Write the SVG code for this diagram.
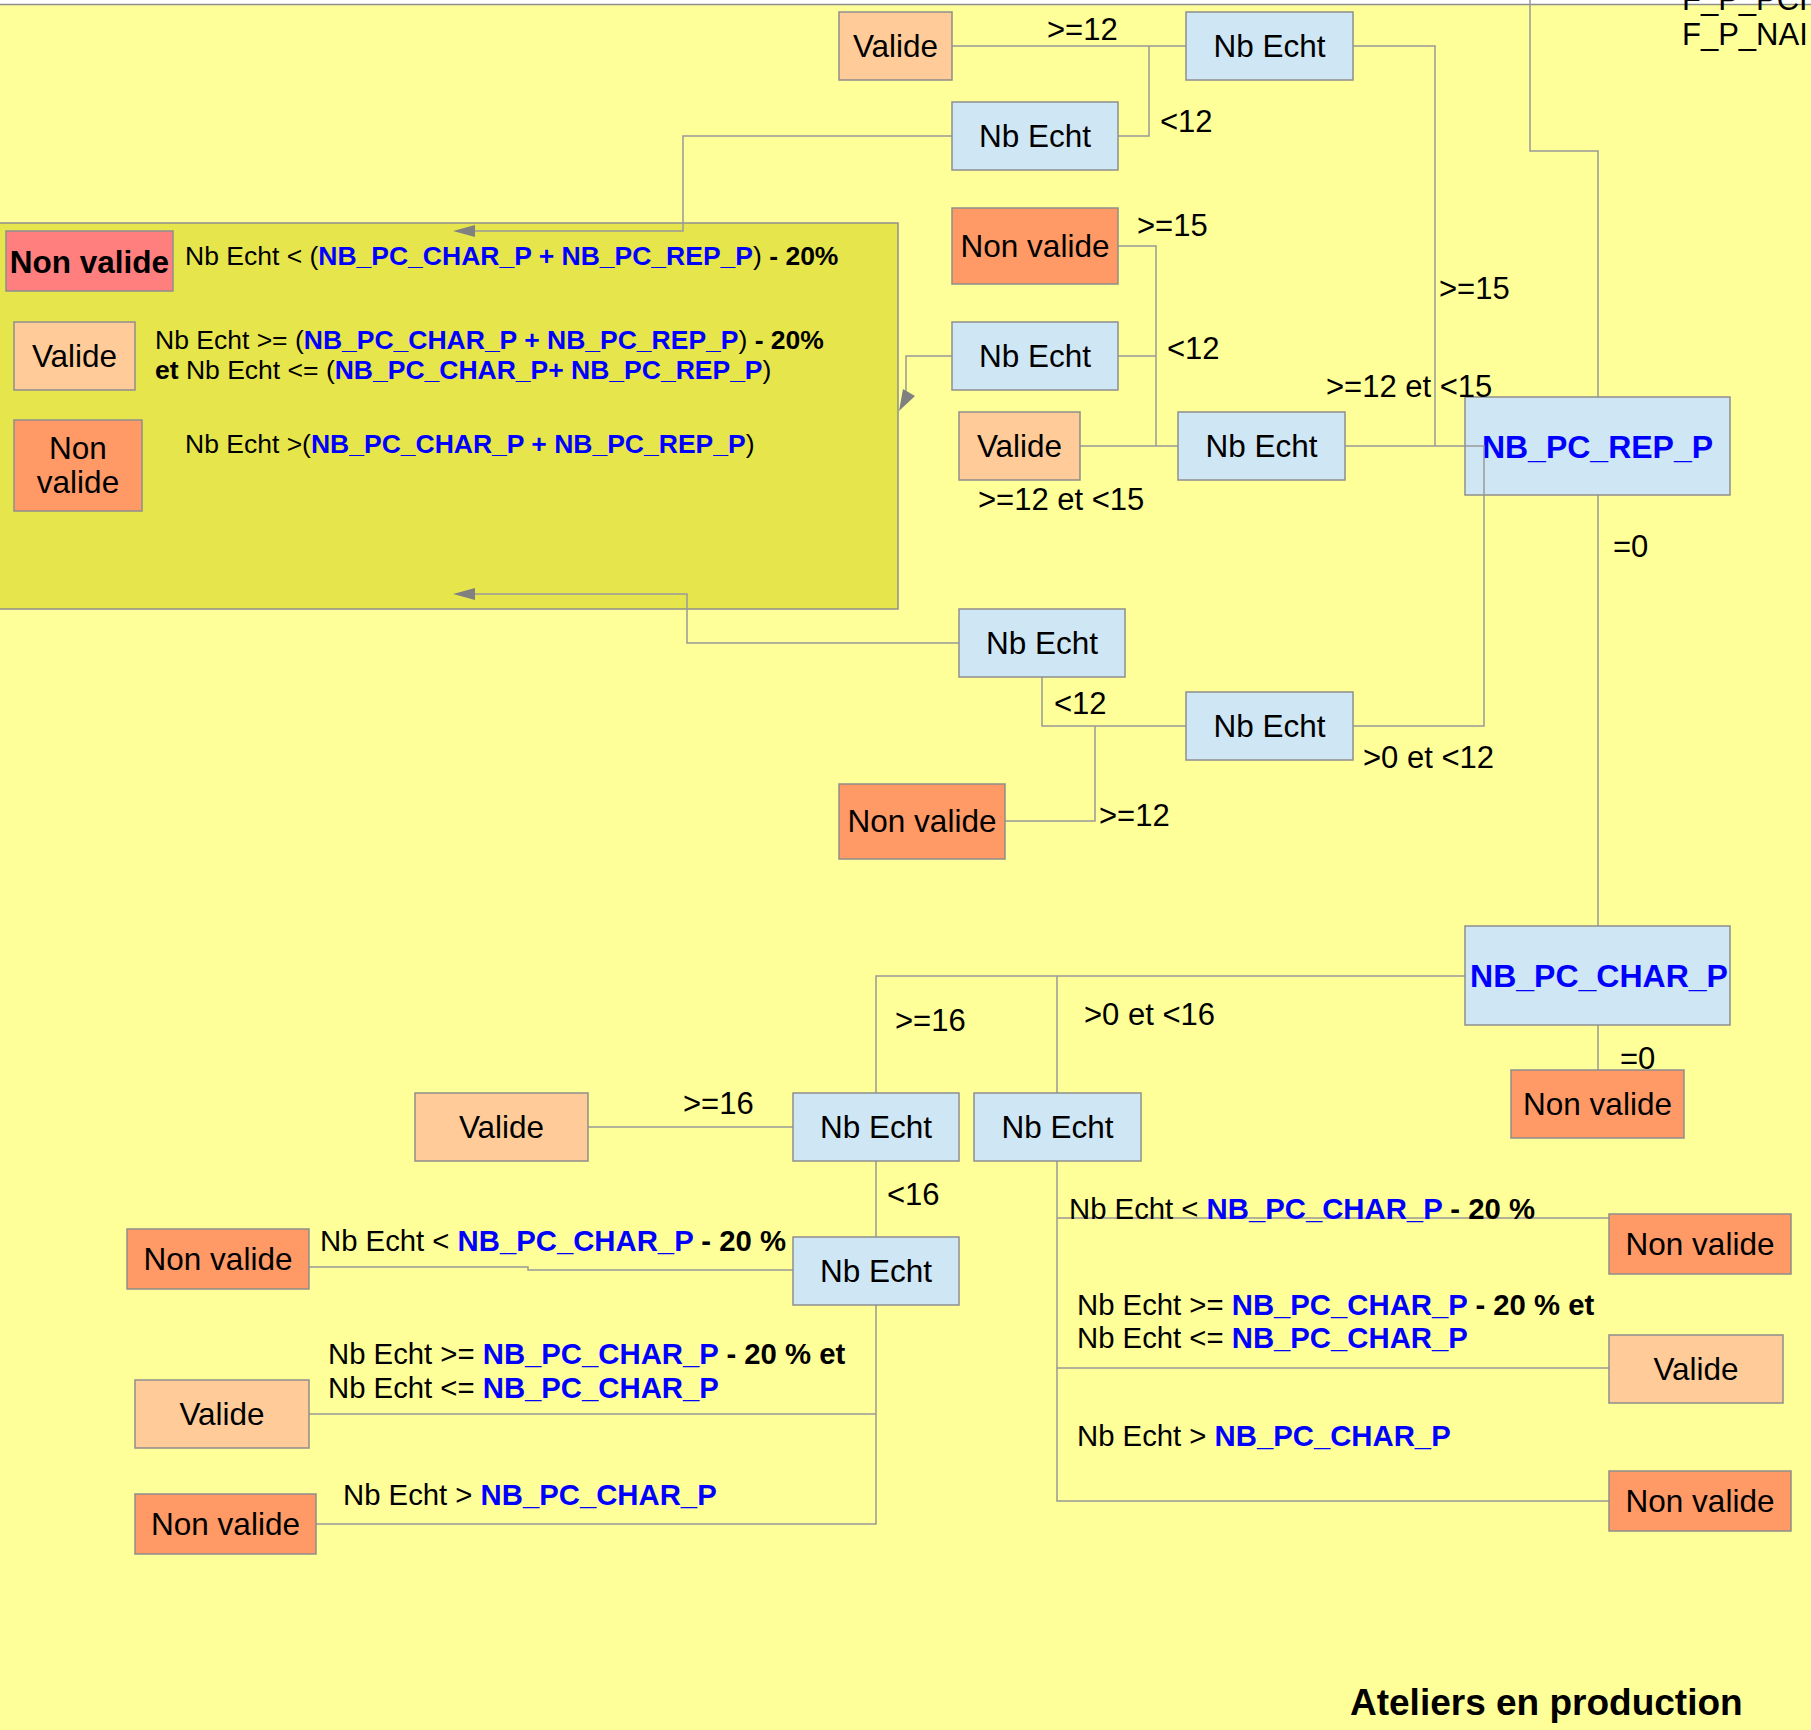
<svg xmlns="http://www.w3.org/2000/svg" width="1811" height="1730" viewBox="0 0 1811 1730">
<style>
.n{stroke:#8E8E8E;stroke-width:1.5}
.nb{fill:#CFE7F5}
.va{fill:#FFCC99}
.nv{fill:#FF9966}
.nvr{fill:#FF7F7F}
.t{font-family:"Liberation Sans",Arial,sans-serif;font-size:31.5px;fill:#000;text-anchor:middle}
.l{font-family:"Liberation Sans",Arial,sans-serif;font-size:31px;fill:#000}
.s{font-family:"Liberation Sans",Arial,sans-serif;font-size:26.5px;fill:#000}
.m{font-family:"Liberation Sans",Arial,sans-serif;font-size:29.3px;fill:#000}
.b{font-weight:bold}
.bl{fill:#0000FF;font-weight:bold}
.c{fill:none;stroke:#999999;stroke-width:1.5}
.ah{fill:#808080}
</style>
<rect x="0" y="0" width="1811" height="1730" fill="#FFFF99"/>
<rect x="0" y="0" width="1811" height="4" fill="#FFFFFF"/>
<line x1="0" y1="4.5" x2="1811" y2="4.5" stroke="#8E8E8E" stroke-width="1.5"/>
<g id="legend">
<rect x="-2" y="223" width="900" height="386" fill="#E6E64C" class="n"/>
</g>
<g id="connectors">
<path class="c" d="M952,46 H1186 M1149,46 V136 H1118"/>
<path class="c" d="M952,136 H683 V231 H470"/>
<polygon class="ah" points="453,231 475,225 475,237"/>
<path class="c" d="M1353,46 H1435 V446 M1345,446 H1484 V726 H1353"/>
<path class="c" d="M1118,246 H1156 V446 M1118,356 H1156 M1080,446 H1178"/>
<path class="c" d="M952,356 H906 V394"/>
<polygon class="ah" points="899,411 903,389 915,396"/>
<path class="c" d="M1186,726 H1042 V677 M1095,726 V821 H1005"/>
<path class="c" d="M959,643 H687 V594 H470"/>
<polygon class="ah" points="453,594 475,588 475,600"/>
<path class="c" d="M1530,0 V151 H1598 V397 M1598,495 V926 M1598,1025 V1070"/>
<path class="c" d="M1465,976 H876 V1093 M1057,976 V1093"/>
<path class="c" d="M588,1127 H793 M876,1161 V1237"/>
<path class="c" d="M793,1270 H528 V1267 H309"/>
<path class="c" d="M876,1305 V1524 H316 M309,1414 H876"/>
<path class="c" d="M1057,1161 V1501 H1609 M1057,1218 H1609 M1057,1368 H1609"/>
</g>
<g id="nv_red"><rect class="n nvr" x="6" y="231" width="167" height="60"/><text class="t b" x="89.5" y="273">Non valide</text></g>
<g id="valide_leg"><rect class="n va" x="14" y="322" width="121" height="68"/><text class="t" x="74.5" y="367">Valide</text></g>
<g id="nv_leg"><rect class="n nv" x="14" y="420" width="128" height="91"/><text class="t" x="78" y="459">Non</text><text class="t" x="78" y="493">valide</text></g>
<g id="legend_text">
<text class="s" x="185" y="265">Nb Echt &lt; (<tspan class="bl">NB_PC_CHAR_P + NB_PC_REP_P</tspan>)<tspan class="b"> - 20%</tspan></text>
<text class="s" x="155" y="349">Nb Echt &gt;= (<tspan class="bl">NB_PC_CHAR_P + NB_PC_REP_P</tspan>)<tspan class="b"> - 20%</tspan></text>
<text class="s" x="155" y="379"><tspan class="b">et</tspan> Nb Echt &lt;= (<tspan class="bl">NB_PC_CHAR_P+ NB_PC_REP_P</tspan>)</text>
<text class="s" x="185" y="453">Nb Echt &gt;(<tspan class="bl">NB_PC_CHAR_P + NB_PC_REP_P</tspan>)</text>
</g>
<g id="valide_top"><rect class="n va" x="839" y="12" width="113" height="68"/><text class="t" x="895.5" y="57">Valide</text></g>
<g id="nbecht_top"><rect class="n nb" x="1186" y="12" width="167" height="68"/><text class="t" x="1269.5" y="57">Nb Echt</text></g>
<g id="nbecht_2"><rect class="n nb" x="952" y="102" width="166" height="68"/><text class="t" x="1035" y="147">Nb Echt</text></g>
<g id="nv_o1"><rect class="n nv" x="952" y="208" width="166" height="76"/><text class="t" x="1035" y="257">Non valide</text></g>
<g id="nbecht_3"><rect class="n nb" x="952" y="322" width="166" height="68"/><text class="t" x="1035" y="367">Nb Echt</text></g>
<g id="valide_mid"><rect class="n va" x="959" y="412" width="121" height="68"/><text class="t" x="1019.5" y="457">Valide</text></g>
<g id="nbecht_mid"><rect class="n nb" x="1178" y="412" width="167" height="68"/><text class="t" x="1261.5" y="457">Nb Echt</text></g>
<g id="nb_pc_rep_p"><rect class="n nb" x="1465" y="397" width="265" height="98"/><text class="t bl" x="1597.5" y="458" style="font-size:32px">NB_PC_REP_P</text></g>
<path class="c" d="M1465,446 H1484 V495"/>
<g id="nbecht_4"><rect class="n nb" x="959" y="609" width="166" height="68"/><text class="t" x="1042" y="654">Nb Echt</text></g>
<g id="nbecht_5"><rect class="n nb" x="1186" y="692" width="167" height="68"/><text class="t" x="1269.5" y="737">Nb Echt</text></g>
<g id="nv_mid"><rect class="n nv" x="839" y="784" width="166" height="75"/><text class="t" x="922" y="832">Non valide</text></g>
<g id="nb_pc_char_p"><rect class="n nb" x="1465" y="926" width="265" height="99"/><text class="t bl" x="1599" y="987" style="font-size:32px">NB_PC_CHAR_P</text></g>
<g id="nv_r0"><rect class="n nv" x="1511" y="1070" width="173" height="68"/><text class="t" x="1597.5" y="1115">Non valide</text></g>
<g id="valide_16"><rect class="n va" x="415" y="1093" width="173" height="68"/><text class="t" x="501.5" y="1138">Valide</text></g>
<g id="nbecht_16"><rect class="n nb" x="793" y="1093" width="166" height="68"/><text class="t" x="876" y="1138">Nb Echt</text></g>
<g id="nbecht_016"><rect class="n nb" x="974" y="1093" width="167" height="68"/><text class="t" x="1057.5" y="1138">Nb Echt</text></g>
<g id="nbecht_lower"><rect class="n nb" x="793" y="1237" width="166" height="68"/><text class="t" x="876" y="1282">Nb Echt</text></g>
<g id="nv_ll1"><rect class="n nv" x="127" y="1229" width="182" height="60"/><text class="t" x="218" y="1270">Non valide</text></g>
<g id="valide_ll"><rect class="n va" x="135" y="1380" width="174" height="68"/><text class="t" x="222" y="1425">Valide</text></g>
<g id="nv_ll3"><rect class="n nv" x="135" y="1494" width="181" height="60"/><text class="t" x="225.5" y="1535">Non valide</text></g>
<g id="nv_r1"><rect class="n nv" x="1609" y="1214" width="182" height="60"/><text class="t" x="1700" y="1255">Non valide</text></g>
<g id="valide_r"><rect class="n va" x="1609" y="1335" width="174" height="68"/><text class="t" x="1696" y="1380">Valide</text></g>
<g id="nv_r3"><rect class="n nv" x="1609" y="1471" width="182" height="60"/><text class="t" x="1700" y="1512">Non valide</text></g>
<g id="labels">
<text class="l" x="1047" y="40">&gt;=12</text>
<text class="l" x="1160" y="132">&lt;12</text>
<text class="l" x="1137" y="236">&gt;=15</text>
<text class="l" x="1167" y="359">&lt;12</text>
<text class="l" x="1439" y="299">&gt;=15</text>
<text class="l" x="1326" y="397">&gt;=12 et &lt;15</text>
<text class="l" x="978" y="510">&gt;=12 et &lt;15</text>
<text class="l" x="1613" y="557">=0</text>
<text class="l" x="1054" y="714">&lt;12</text>
<text class="l" x="1363" y="768">&gt;0 et &lt;12</text>
<text class="l" x="1099" y="826">&gt;=12</text>
<text class="l" x="1084" y="1025">&gt;0 et &lt;16</text>
<text class="l" x="895" y="1031">&gt;=16</text>
<text class="l" x="1620" y="1069">=0</text>
<text class="l" x="683" y="1114">&gt;=16</text>
<text class="l" x="887" y="1205">&lt;16</text>
<text class="m" x="320" y="1251">Nb Echt &lt; <tspan class="bl">NB_PC_CHAR_P</tspan><tspan class="b"> - 20 %</tspan></text>
<text class="m" x="328" y="1364">Nb Echt &gt;= <tspan class="bl">NB_PC_CHAR_P</tspan><tspan class="b"> - 20 % et</tspan></text>
<text class="m" x="328" y="1398">Nb Echt &lt;= <tspan class="bl">NB_PC_CHAR_P</tspan></text>
<text class="m" x="343" y="1505">Nb Echt &gt; <tspan class="bl">NB_PC_CHAR_P</tspan></text>
<text class="m" x="1069" y="1219">Nb Echt &lt; <tspan class="bl">NB_PC_CHAR_P</tspan><tspan class="b"> - 20 %</tspan></text>
<text class="m" x="1077" y="1315">Nb Echt &gt;= <tspan class="bl">NB_PC_CHAR_P</tspan><tspan class="b"> - 20 % et</tspan></text>
<text class="m" x="1077" y="1348">Nb Echt &lt;= <tspan class="bl">NB_PC_CHAR_P</tspan></text>
<text class="m" x="1077" y="1446">Nb Echt &gt; <tspan class="bl">NB_PC_CHAR_P</tspan></text>
<text class="l" x="1682" y="10">F_P_PCH</text>
<text class="l" x="1682" y="45">F_P_NAI</text>
<text class="l b" x="1350" y="1715" style="font-size:37px">Ateliers en production</text>
</g>
</svg>
